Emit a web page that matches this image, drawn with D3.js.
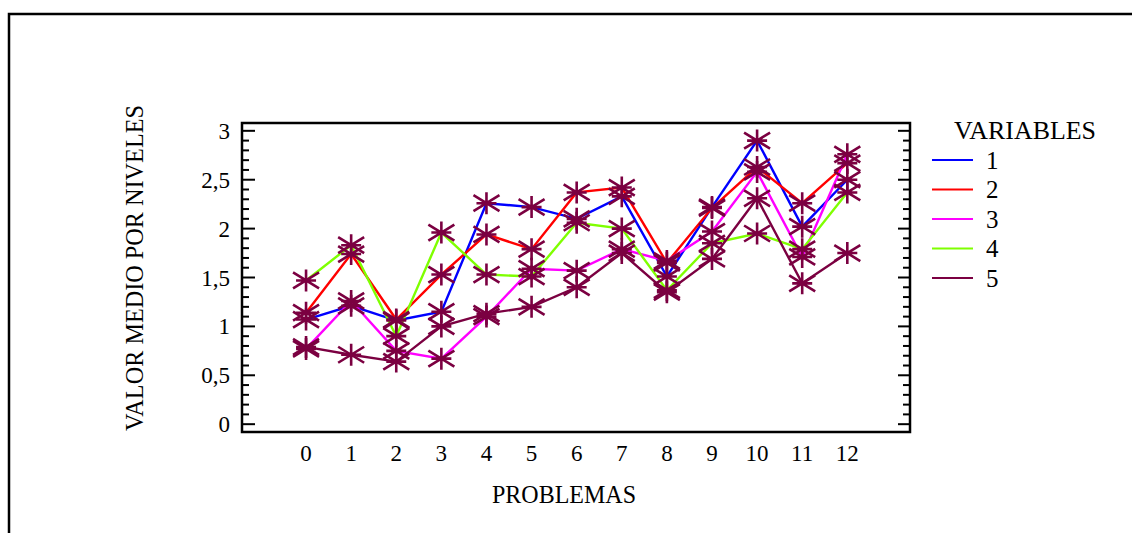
<!DOCTYPE html>
<html>
<head>
<meta charset="utf-8">
<script src="https://cdn.jsdelivr.net/npm/d3@7"></script>
<style>
  body { margin: 0; background: #fff; }
  svg { display: block; }
</style>
</head>
<body>
<div id="chart"></div>
<script>
// chart values
const problemas = [0, 1, 2, 3, 4, 5, 6, 7, 8, 9, 10, 11, 12];
const variables = ["1", "2", "3", "4", "5"];
const var1 = [1.07, 1.21, 1.06, 1.15, 2.26, 2.22, 2.10, 2.33, 1.51, 2.22, 2.90, 2.02, 2.50];
const var2 = [1.14, 1.74, 1.07, 1.53, 1.94, 1.79, 2.37, 2.42, 1.65, 2.21, 2.63, 2.26, 2.67];
const var3 = [0.77, 1.26, 0.75, 0.67, 1.10, 1.59, 1.57, 1.79, 1.67, 1.97, 2.58, 1.71, 2.76];
const var4 = [1.47, 1.83, 0.90, 1.96, 1.53, 1.51, 2.06, 2.00, 1.37, 1.85, 1.95, 1.79, 2.37];
const var5 = [0.79, 0.71, 0.64, 1.00, 1.13, 1.20, 1.40, 1.75, 1.35, 1.69, 2.31, 1.44, 1.75];
const yTicks = [0, 0.5, 1, 1.5, 2, 2.5, 3];
const colors = ["#0000ff", "#ff0000", "#ff00ff", "#7fff00", "#7b0041"];
const markerColor = "#7b0041";

const W = 1132, H = 533;
const svg = d3.select("#chart").append("svg")
    .attr("width", W)
    .attr("height", H);

const font = "'Liberation Serif', 'Times New Roman', serif";

// outer frame (top and left edges only visible)
svg.append("path")
    .attr("d", "M9,533 L9,14 L1132,14")
    .attr("fill", "none")
    .attr("stroke", "#000")
    .attr("stroke-width", 2.5);

const pLeft = 242, pRight = 910, pTop = 123, pBottom = 432;

const x = d3.scaleLinear().domain([-1.42, 13.39]).range([pLeft, pRight]);
const y = d3.scaleLinear().domain([-0.08, 3.08]).range([pBottom, pTop]);

const minorTicks = d3.range(0, 3.001, 0.1);

// left axis ticks (inside)
const gl = svg.append("g").attr("transform", "translate(" + pLeft + ",0)");
gl.selectAll("line.tk")
    .data(minorTicks)
    .join("line")
    .attr("x1", 0)
    .attr("x2", (d, i) => i % 5 === 0 ? 13 : 7)
    .attr("y1", d => y(d))
    .attr("y2", d => y(d))
    .attr("stroke", "#000")
    .attr("stroke-width", 2);

// right axis ticks (inside)
const gr = svg.append("g").attr("transform", "translate(" + pRight + ",0)");
gr.selectAll("line.tk")
    .data(minorTicks)
    .join("line")
    .attr("x1", 0)
    .attr("x2", (d, i) => i % 5 === 0 ? -12 : -7)
    .attr("y1", d => y(d))
    .attr("y2", d => y(d))
    .attr("stroke", "#000")
    .attr("stroke-width", 2);

// y tick labels
svg.selectAll("text.ytick")
    .data(yTicks)
    .join("text")
    .attr("x", 230)
    .attr("y", d => y(d))
    .attr("dy", "0.35em")
    .attr("text-anchor", "end")
    .style("font-family", font)
    .style("font-size", "23px")
    .text(d => String(d).replace(".", ","));

// x tick labels
svg.selectAll("text.xtick")
    .data(problemas)
    .join("text")
    .attr("x", d => x(d))
    .attr("y", 461)
    .attr("text-anchor", "middle")
    .style("font-family", font)
    .style("font-size", "23px")
    .text(d => d);

// axis titles
svg.append("text")
    .attr("x", 564)
    .attr("y", 503)
    .attr("text-anchor", "middle")
    .attr("textLength", 144)
    .attr("lengthAdjust", "spacingAndGlyphs")
    .style("font-family", font)
    .style("font-size", "26px")
    .text("PROBLEMAS");

svg.append("text")
    .attr("transform", "translate(143,268) rotate(-90)")
    .attr("text-anchor", "middle")
    .attr("textLength", 326)
    .attr("lengthAdjust", "spacingAndGlyphs")
    .style("font-family", font)
    .style("font-size", "25px")
    .text("VALOR MEDIO POR NIVELES");

// series
const series = [var1, var2, var3, var4, var5];
const line = d3.line().x((d, i) => x(problemas[i])).y(d => y(d));

const plot = svg.append("g");
series.forEach((s, k) => {
    plot.append("path")
        .datum(s)
        .attr("d", line)
        .attr("fill", "none")
        .attr("stroke", colors[k])
        .attr("stroke-width", 2.4);
});

// asterisk markers, all in maroon
function star(px, py) {
    return "M" + (px - 13) + "," + (py - 8) + "L" + (px + 13) + "," + (py + 8) +
        "M" + (px - 13) + "," + (py + 8) + "L" + (px + 13) + "," + (py - 8) +
        "M" + px + "," + (py - 11) + "L" + px + "," + (py + 11) +
        "M" + (px - 10) + "," + py + "L" + (px + 10) + "," + py;
}
series.forEach(s => {
    plot.selectAll(null)
        .data(s)
        .join("path")
        .attr("d", (d, i) => star(x(problemas[i]), y(d)))
        .attr("fill", "none")
        .attr("stroke", markerColor)
        .attr("stroke-width", 2.6);
});

// plot frame
svg.append("rect")
    .attr("x", pLeft)
    .attr("y", pTop)
    .attr("width", pRight - pLeft)
    .attr("height", pBottom - pTop)
    .attr("fill", "none")
    .attr("stroke", "#000")
    .attr("stroke-width", 2.5);

// legend
svg.append("text")
    .attr("x", 954)
    .attr("y", 139)
    .attr("textLength", 142)
    .attr("lengthAdjust", "spacingAndGlyphs")
    .style("font-family", font)
    .style("font-size", "25px")
    .text("VARIABLES");

const legY = d3.scalePoint().domain(variables).range([160, 278]);
const leg = svg.selectAll("g.leg")
    .data(variables)
    .join("g")
    .attr("transform", d => "translate(0," + legY(d) + ")");
leg.append("line")
    .attr("x1", 932)
    .attr("x2", 973)
    .attr("stroke", (d, i) => colors[i])
    .attr("stroke-width", 2);
leg.append("text")
    .attr("x", 986)
    .attr("dy", "0.35em")
    .style("font-family", font)
    .style("font-size", "25px")
    .text(d => d);
</script>
</body>
</html>
